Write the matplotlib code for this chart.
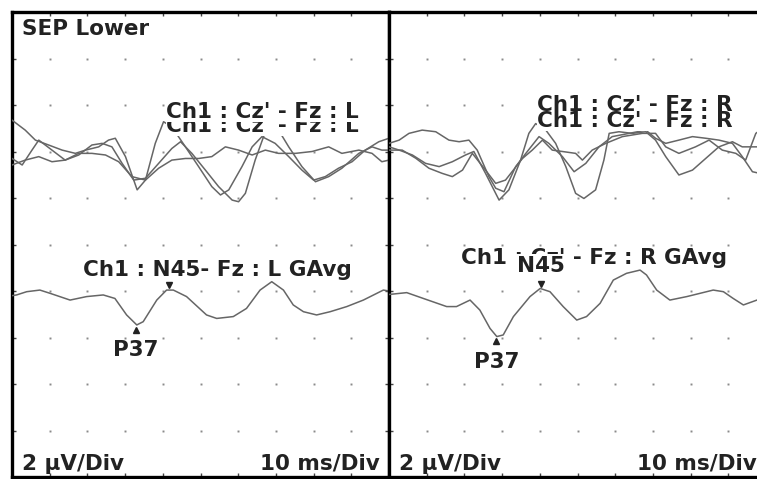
import numpy as np
import matplotlib.pyplot as plt
from matplotlib.transforms import offset_copy

# 10 ms/Div horizontally, 2 uV/Div vertically; amplitudes include the display offset of each channel

# ---- left side (L) ----
cz_l1_t = [0, 3.5, 6.2, 9.7, 13.3, 16.8, 19.5, 23.0, 25.6, 27.4, 30.1, 33.2, 35.4, 38.0, 40.2, 42.4,
           46.0, 49.5, 53.0, 55.3, 57.5, 61.0, 63.7, 66.3, 69.8, 73.4, 76.9, 80.0, 83.1, 86.6, 90.2,
           93.7, 97.3, 100]
cz_l1_v = [15.35, 14.92, 14.49, 14.28, 14.06, 13.92, 14.06, 14.2, 14.49, 14.57, 13.78, 12.35, 12.77,
           14.35, 15.28, 15.06, 14.2, 13.35, 12.49, 12.13, 12.35, 13.35, 14.2, 14.64, 14.35, 13.78,
           13.2, 12.77, 12.92, 13.28, 13.56, 14.06, 14.42, 14.57]

cz_l2_t = [0, 2.7, 5.3, 7.1, 10.6, 14.1, 17.7, 21.2, 23.9, 26.5, 29.2, 32.3, 35.4, 38.9, 42.4, 44.7,
           47.7, 51.3, 54.8, 58.4, 60.1, 61.9, 64.5, 67.2, 68.5, 70.7, 73.4, 76.9, 80.5, 84.0, 87.5,
           92.0, 95.5, 98.1, 100]
cz_l2_v = [13.7, 13.42, 14.06, 14.49, 14.06, 13.63, 13.85, 14.28, 14.35, 14.2, 13.49, 12.77, 12.85,
           13.49, 14.13, 14.42, 13.92, 13.2, 12.49, 11.91, 11.84, 12.2, 13.63, 14.85, 15.14, 14.92,
           14.2, 13.35, 12.7, 12.92, 13.28, 13.92, 14.2, 14.06, 14.06]

cz_l3_t = [0, 3.5, 7.1, 10.6, 14.1, 17.7, 21.2, 24.8, 28.3, 31.8, 35.4, 38.9, 42.4, 46.0, 49.5, 53.0,
           56.6, 60.1, 63.7, 67.2, 70.7, 75.2, 79.6, 84.0, 87.5, 92.0, 95.5, 98.1, 100]
cz_l3_v = [13.42, 13.63, 13.78, 13.56, 13.63, 13.92, 13.92, 13.85, 13.56, 12.92, 12.77, 13.28, 13.63,
           13.7, 13.7, 13.78, 14.2, 14.06, 13.85, 14.06, 13.92, 13.92, 14.0, 14.2, 13.92, 14.06, 13.92,
           13.56, 13.63]

gavg_l_t = [0, 1.2, 3.9, 7.4, 10.1, 15.4, 19.8, 24.2, 27.3, 30.4, 33.1, 34.8, 38.4, 41.0, 42.8, 46.3,
            51.6, 54.3, 58.7, 62.2, 65.8, 68.9, 72.0, 74.6, 77.3, 80.8, 84.4, 88.8, 93.2, 98.5, 100]
gavg_l_v = [7.8, 7.83, 7.97, 8.04, 7.9, 7.61, 7.76, 7.83, 7.68, 6.97, 6.54, 6.68, 7.61, 8.04, 8.04, 7.76,
            6.97, 6.82, 6.9, 7.25, 8.04, 8.4, 8.04, 7.4, 7.11, 6.97, 7.11, 7.33, 7.61, 8.04, 8.0]

# ---- right side (R) ----
cz_r1_t = [0, 2.7, 6.2, 9.7, 13.3, 16.8, 20.3, 22.5, 25.6, 29.2, 31.8, 34.9, 37.1, 38.9, 41.6, 44.2,
           46.9, 49.5, 51.7, 54.8, 57.0, 58.4, 61.0, 64.5, 68.1, 70.7, 73.4, 76.9, 80.5, 84.0, 87.5,
           91.1, 93.7, 97.3, 100]
cz_r1_v = [14.2, 14.06, 13.85, 13.49, 13.35, 13.56, 13.85, 14.0, 13.06, 11.91, 12.35, 13.63, 14.78,
           15.2, 14.92, 14.35, 13.35, 12.2, 11.98, 12.35, 13.63, 14.78, 14.85, 14.78, 14.85, 14.49,
           13.78, 12.99, 13.2, 13.7, 14.2, 14.42, 14.2, 14.2, 14.2]

cz_r2_t = [0, 2.7, 5.3, 8.8, 12.4, 15.9, 18.6, 21.2, 23.4, 26.5, 28.3, 30.5, 33.6, 36.3, 39.8, 42.4,
           46.0, 49.1, 52.2, 55.7, 59.2, 63.7, 68.1, 70.7, 73.4, 76.9, 80.5, 84.0, 87.5, 91.1, 93.7,
           96.4, 100]
cz_r2_v = [14.35, 14.49, 14.78, 14.92, 14.85, 14.49, 14.42, 14.49, 14.06, 12.92, 12.42, 12.27, 13.35,
           13.92, 14.64, 14.35, 13.78, 13.13, 13.49, 14.2, 14.64, 14.78, 14.92, 14.57, 14.35, 14.49,
           14.64, 14.57, 14.49, 14.35, 13.78, 13.13, 13.0]

cz_r3_t = [0, 3.5, 7.1, 10.6, 14.1, 16.8, 19.5, 22.1, 25.6, 28.3, 30.9, 35.4, 38.0, 40.7, 43.3, 46.0,
           49.5, 51.3, 53.9, 57.5, 61.9, 67.2, 70.7, 73.4, 76.9, 81.3, 84.9, 88.4, 92.0, 94.6, 97.3, 100]
cz_r3_v = [14.06, 14.06, 13.71, 13.28, 13.06, 12.92, 13.2, 13.92, 13.2, 12.63, 12.77, 13.7, 14.06,
           14.49, 14.06, 14.0, 13.92, 13.63, 14.06, 14.35, 14.64, 14.78, 14.78, 14.2, 13.92, 14.2,
           14.49, 14.06, 13.92, 13.63, 14.78, 15.1]

gavg_r_t = [0, 4.7, 9.1, 15.3, 17.9, 21.5, 24.1, 26.8, 28.6, 30.3, 33.0, 37.4, 40.1, 42.7, 46.2, 49.8,
            52.4, 56.0, 59.5, 63.0, 66.6, 68.3, 71.0, 74.5, 79.0, 82.5, 86.0, 88.7, 91.3, 94.0, 97.6, 100]
gavg_r_v = [7.85, 7.93, 7.68, 7.33, 7.33, 7.61, 7.18, 6.39, 6.04, 6.11, 6.9, 7.76, 8.11, 7.97, 7.33,
            6.75, 6.9, 7.47, 8.47, 8.76, 8.9, 8.69, 8.04, 7.61, 7.76, 7.9, 8.04, 7.97, 7.68, 7.4, 7.61, 7.7]

# peak latencies (ms) / amplitudes
p37_l, n45_l = (32.8, 6.54), (41.6, 8.04)
p37_r, n45_r = (28.5, 6.04), (40.2, 8.11)

TRACE = '#666666'
FONT = dict(family='DejaVu Sans', fontweight='bold', fontsize=15.5, color='#222222')

fig = plt.figure(figsize=(7.57, 4.79), dpi=100)
W, H = 757, 479


def make_panel(x0):
    ax = fig.add_axes([x0 / W, 2 / H, 377 / W, 465 / H])
    ax.set_xlim(0, 100)
    ax.set_ylim(0, 20)
    ax.set_xticks(np.arange(0, 101, 10))
    ax.set_yticks(np.arange(0, 21, 2))
    ax.tick_params(direction='in', length=3, width=1, color='#444444',
                   top=True, right=True, labelbottom=False, labelleft=False)
    for s in ax.spines.values():
        s.set_linewidth(2.4)
        s.set_color('black')
    gx, gy = np.meshgrid(np.arange(10, 100, 10), np.arange(2, 20, 2))
    ax.plot(gx.ravel(), gy.ravel(), ls='none', marker='s', ms=1.4, color='#8a8a8a', mew=0, zorder=1)
    return ax


def mark_peaks(ax, p37, n45, label_n45):
    up = offset_copy(ax.transData, fig=fig, x=0, y=3.5, units='points')
    dn = offset_copy(ax.transData, fig=fig, x=0, y=-3.5, units='points')
    ax.plot(n45[0], n45[1], 'v', ms=5, color='#222222', transform=up, zorder=7)
    ax.plot(p37[0], p37[1], '^', ms=5, color='#222222', transform=dn, zorder=7)
    ax.annotate('P37', xy=p37, xytext=(0, -18), textcoords='offset points',
                ha='center', va='center', zorder=8, **FONT)
    if label_n45:
        ax.annotate('N45', xy=n45, xytext=(0, 16), textcoords='offset points',
                    ha='center', va='center', zorder=8,
                    bbox=dict(boxstyle='square,pad=0.08', fc='white', ec='none'), **FONT)


def frame_text(ax):
    ax.text(0.026, 0.028, '2 \u00b5V/Div', transform=ax.transAxes, ha='left', va='center', **FONT)
    ax.text(0.976, 0.028, '10 ms/Div', transform=ax.transAxes, ha='right', va='center', **FONT)


box = dict(boxstyle='square,pad=0', fc='white', ec='none')

# left panel
axl = make_panel(12)
for t, v in [(cz_l1_t, cz_l1_v), (cz_l2_t, cz_l2_v), (cz_l3_t, cz_l3_v)]:
    axl.plot(t, v, color=TRACE, lw=1.1, zorder=3)
axl.plot(gavg_l_t, gavg_l_v, color=TRACE, lw=1.1, zorder=3)
axl.text(66.4, 15.1, "Ch1 : Cz' - Fz : L", ha='center', va='center', bbox=box, zorder=5, **FONT)
axl.text(66.4, 15.68, "Ch1 : Cz' - Fz : L", ha='center', va='center', bbox=box, zorder=6, **FONT)
axl.text(54.5, 8.9, "Ch1 : N45- Fz : L GAvg", ha='center', va='center', zorder=5, **FONT)
axl.text(0.026, 0.963, 'SEP Lower', transform=axl.transAxes, ha='left', va='center', **FONT)
mark_peaks(axl, p37_l, n45_l, False)
frame_text(axl)

# right panel (cut off by the image edge)
axr = make_panel(389)
for t, v in [(cz_r1_t, cz_r1_v), (cz_r2_t, cz_r2_v), (cz_r3_t, cz_r3_v)]:
    axr.plot(t, v, color=TRACE, lw=1.1, zorder=3)
axr.plot(gavg_r_t, gavg_r_v, color=TRACE, lw=1.1, zorder=3)
axr.text(65.1, 16.0, "Ch1 : Cz' - Fz : R", ha='center', va='center', bbox=box, zorder=5, **FONT)
axr.text(65.1, 15.33, "Ch1 : Cz' - Fz : R", ha='center', va='center', bbox=box, zorder=6, **FONT)
axr.text(54.4, 9.42, "Ch1 : Cz' - Fz : R GAvg", ha='center', va='center', zorder=5, **FONT)
mark_peaks(axr, p37_r, n45_r, True)
frame_text(axr)

fig.savefig('out.png', dpi=100)
